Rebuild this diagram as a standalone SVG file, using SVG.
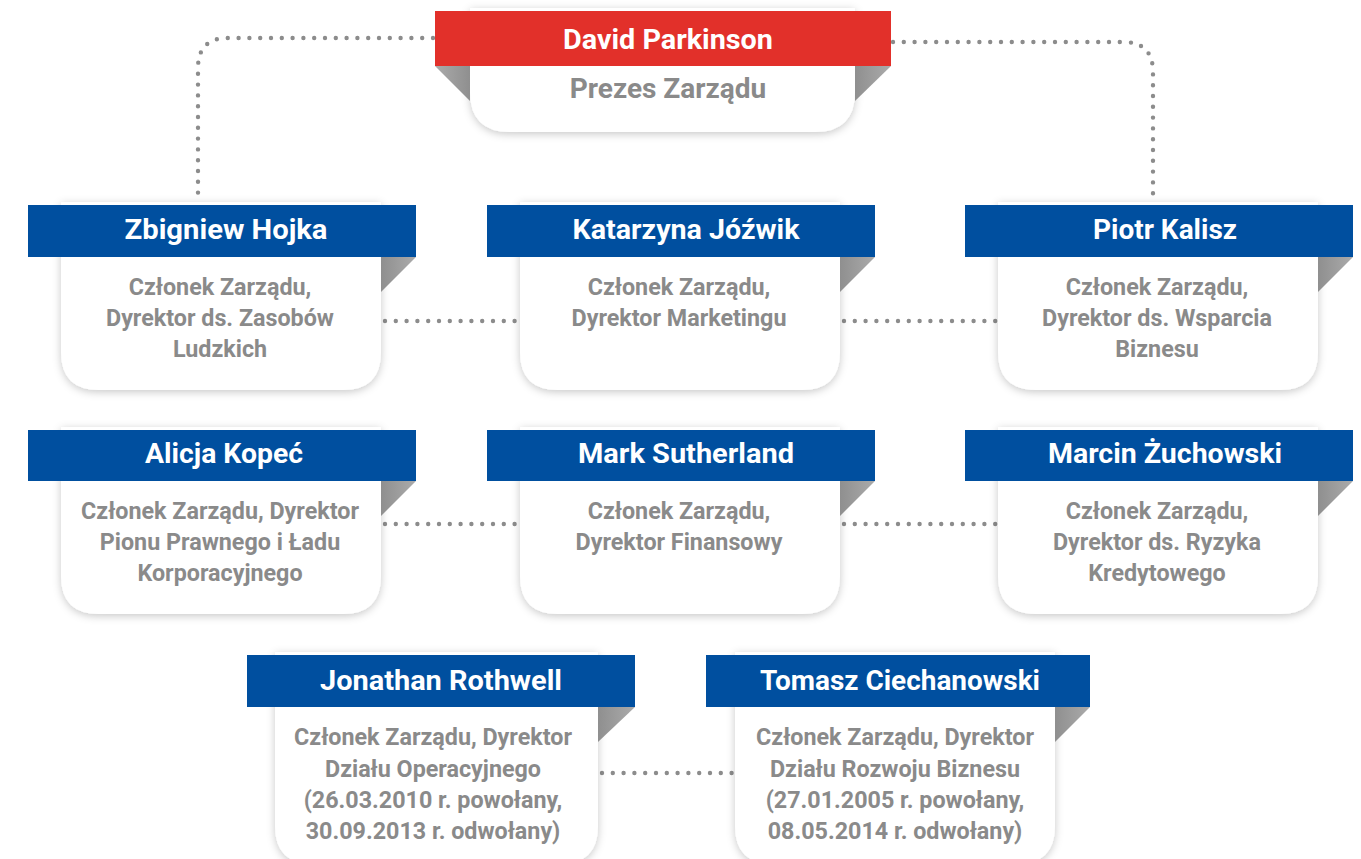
<svg xmlns="http://www.w3.org/2000/svg" width="1361" height="859" viewBox="0 0 1361 859">
  <defs>
    <filter id="shadow" x="-10%" y="-10%" width="120%" height="125%">
      <feDropShadow dx="0" dy="2" stdDeviation="4" flood-color="#000" flood-opacity="0.22"/>
    </filter>
    <linearGradient id="foldR" x1="0" y1="0" x2="1" y2="0">
      <stop offset="0" stop-color="#8f8f8f"/>
      <stop offset="1" stop-color="#ababab"/>
    </linearGradient>
    <linearGradient id="foldL" x1="1" y1="0" x2="0" y2="0">
      <stop offset="0" stop-color="#8f8f8f"/>
      <stop offset="1" stop-color="#ababab"/>
    </linearGradient>
    <style>
      .card { fill: #ffffff; filter: url(#shadow); }
      .blue { fill: #004f9f; }
      .red { fill: #e2302a; }
      .name { font-family: Roboto, "Liberation Sans", sans-serif; font-weight: 700; font-size: 27px; fill: #ffffff; text-anchor: middle; }
      .role { font-family: Roboto, "Liberation Sans", sans-serif; font-weight: 700; font-size: 23.3px; fill: #8a8a8a; text-anchor: middle; }
      .chief { font-size: 28px; }
      .dots { fill: none; stroke: #8c8c8c; stroke-width: 4.4; stroke-linecap: round; stroke-dasharray: 0 10.8; }
    </style>
  </defs>

  <!-- dotted connectors -->
  <g id="connectors">
    <path class="dots" d="M433 38 H228 Q198 38 198 68 V198"/>
    <path class="dots" d="M893 42 H1123 Q1153 42 1153 72 V203"/>
    <path class="dots" d="M385 321 H518"/>
    <path class="dots" d="M844 321 H996"/>
    <path class="dots" d="M385 524 H518"/>
    <path class="dots" d="M844 524 H996"/>
    <path class="dots" d="M602 773 H733"/>
  </g>

  <!-- chairman -->
  <g id="node-parkinson">
    <path class="card" d="M470 8 H855 V92 Q855 132 815 132 H510 Q470 132 470 92 Z"/>
    <rect class="red" x="435" y="11" width="456" height="55"/>
    <polygon fill="url(#foldL)" points="435,66 470,66 470,101"/>
    <polygon fill="url(#foldR)" points="855,66 891,66 855,101"/>
    <text class="name" x="668" y="49" textLength="210" lengthAdjust="spacingAndGlyphs">David Parkinson</text>
    <text class="role chief" x="668" y="98">Prezes Zarządu</text>
  </g>

  <!-- row 1 -->
  <g id="node-hojka">
    <path class="card" d="M61 202 H381 V352 Q381 390 343 390 H99 Q61 390 61 352 Z"/>
    <rect class="blue" x="28" y="205" width="388" height="52"/>
    <polygon fill="url(#foldR)" points="381,257 416,257 381,292"/>
    <text class="name" x="226" y="239" textLength="203" lengthAdjust="spacingAndGlyphs">Zbigniew Hojka</text>
    <text class="role" x="220" y="295">Członek Zarządu,</text>
    <text class="role" x="220" y="326">Dyrektor ds. Zasobów</text>
    <text class="role" x="220" y="357">Ludzkich</text>
  </g>
  <g id="node-jozwik">
    <path class="card" d="M520 202 H840 V352 Q840 390 802 390 H558 Q520 390 520 352 Z"/>
    <rect class="blue" x="487" y="205" width="388" height="52"/>
    <polygon fill="url(#foldR)" points="840,257 875,257 840,292"/>
    <text class="name" x="686" y="239" textLength="227" lengthAdjust="spacingAndGlyphs">Katarzyna Jóźwik</text>
    <text class="role" x="679" y="295">Członek Zarządu,</text>
    <text class="role" x="679" y="326">Dyrektor Marketingu</text>
  </g>
  <g id="node-kalisz">
    <path class="card" d="M998 202 H1318 V352 Q1318 390 1280 390 H1036 Q998 390 998 352 Z"/>
    <rect class="blue" x="965" y="205" width="388" height="52"/>
    <polygon fill="url(#foldR)" points="1318,257 1353,257 1318,292"/>
    <text class="name" x="1165" y="239" textLength="144" lengthAdjust="spacingAndGlyphs">Piotr Kalisz</text>
    <text class="role" x="1157" y="295">Członek Zarządu,</text>
    <text class="role" x="1157" y="326">Dyrektor ds. Wsparcia</text>
    <text class="role" x="1157" y="357">Biznesu</text>
  </g>

  <!-- row 2 -->
  <g id="node-kopec">
    <path class="card" d="M61 427 H381 V576 Q381 614 343 614 H99 Q61 614 61 576 Z"/>
    <rect class="blue" x="28" y="430" width="388" height="51"/>
    <polygon fill="url(#foldR)" points="381,481 416,481 381,516"/>
    <text class="name" x="224" y="463" textLength="158" lengthAdjust="spacingAndGlyphs">Alicja Kopeć</text>
    <text class="role" x="220" y="519">Członek Zarządu, Dyrektor</text>
    <text class="role" x="220" y="550">Pionu Prawnego i Ładu</text>
    <text class="role" x="220" y="581">Korporacyjnego</text>
  </g>
  <g id="node-sutherland">
    <path class="card" d="M520 427 H840 V576 Q840 614 802 614 H558 Q520 614 520 576 Z"/>
    <rect class="blue" x="487" y="430" width="388" height="51"/>
    <polygon fill="url(#foldR)" points="840,481 875,481 840,516"/>
    <text class="name" x="686" y="463" textLength="216" lengthAdjust="spacingAndGlyphs">Mark Sutherland</text>
    <text class="role" x="679" y="519">Członek Zarządu,</text>
    <text class="role" x="679" y="550">Dyrektor Finansowy</text>
  </g>
  <g id="node-zuchowski">
    <path class="card" d="M998 427 H1318 V576 Q1318 614 1280 614 H1036 Q998 614 998 576 Z"/>
    <rect class="blue" x="965" y="430" width="388" height="51"/>
    <polygon fill="url(#foldR)" points="1318,481 1353,481 1318,516"/>
    <text class="name" x="1165" y="463" textLength="234" lengthAdjust="spacingAndGlyphs">Marcin Żuchowski</text>
    <text class="role" x="1157" y="519">Członek Zarządu,</text>
    <text class="role" x="1157" y="550">Dyrektor ds. Ryzyka</text>
    <text class="role" x="1157" y="581">Kredytowego</text>
  </g>

  <!-- row 3 -->
  <g id="node-rothwell">
    <path class="card" d="M275 652 H598 V826 Q598 864 560 864 H313 Q275 864 275 826 Z"/>
    <rect class="blue" x="247" y="655" width="388" height="52"/>
    <polygon fill="url(#foldR)" points="598,707 635,707 598,742"/>
    <text class="name" x="441" y="690" textLength="242" lengthAdjust="spacingAndGlyphs">Jonathan Rothwell</text>
    <text class="role" x="433" y="745">Członek Zarządu, Dyrektor</text>
    <text class="role" x="433" y="777">Działu Operacyjnego</text>
    <text class="role" x="433" y="808">(26.03.2010 r. powołany,</text>
    <text class="role" x="433" y="839">30.09.2013 r. odwołany)</text>
  </g>
  <g id="node-ciechanowski">
    <path class="card" d="M735 652 H1055 V826 Q1055 864 1017 864 H773 Q735 864 735 826 Z"/>
    <rect class="blue" x="706" y="655" width="384" height="52"/>
    <polygon fill="url(#foldR)" points="1055,707 1090,707 1055,742"/>
    <text class="name" x="900" y="690" textLength="280" lengthAdjust="spacingAndGlyphs">Tomasz Ciechanowski</text>
    <text class="role" x="895" y="745">Członek Zarządu, Dyrektor</text>
    <text class="role" x="895" y="777">Działu Rozwoju Biznesu</text>
    <text class="role" x="895" y="808">(27.01.2005 r. powołany,</text>
    <text class="role" x="895" y="839">08.05.2014 r. odwołany)</text>
  </g>
</svg>
